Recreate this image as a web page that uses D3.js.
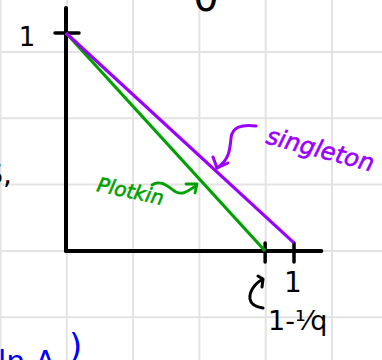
<!DOCTYPE html>
<html>
<head>
<meta charset="utf-8">
<script src="https://cdn.jsdelivr.net/npm/d3@7"></script>
<style>
  html, body { margin: 0; padding: 0; background: #fff; }
  svg { display: block; }
  text { font-family: "DejaVu Sans", sans-serif; }
</style>
</head>
<body>
<svg id="chart" width="382" height="360"></svg>
<script>
// Rate vs relative distance: Singleton and Plotkin bounds
const q = 7.9;
const plotkinEnd = 1 - 1 / q;

const singletonBound = [[0, 1], [1, 0.037]];
const plotkinBound = [[0, 1], [plotkinEnd, 0]];

const xTickValues = [plotkinEnd, 1];
const xTickLabels = ["1-\u00B9\u2044q", "1"];
const yTickValues = [1];
const yTickLabels = ["1"];
const seriesNames = ["singleton", "Plotkin"];

const width = 382, height = 360;
const svg = d3.select("#chart");

svg.append("rect").attr("width", width).attr("height", height).attr("fill", "#fff");

// squared paper
const cell = 66.3;
const grid = svg.append("g").attr("stroke", "#e3e3e3").attr("stroke-width", 2);
d3.range(0.5, width, cell).forEach(x =>
  grid.append("line").attr("x1", x).attr("x2", x).attr("y1", 0).attr("y2", height));
d3.range(52 - cell, height, cell).forEach(y =>
  grid.append("line").attr("x1", 0).attr("x2", width).attr("y1", y).attr("y2", y));

const x = d3.scaleLinear().domain([0, 1]).range([66, 294]);
const y = d3.scaleLinear().domain([0, 1]).range([251, 33]);

// axes
const axes = svg.append("g").attr("stroke", "#000").attr("stroke-width", 4).attr("stroke-linecap", "round");
axes.append("line").attr("x1", x(0)).attr("x2", x(0)).attr("y1", y(1.115)).attr("y2", y(0));
axes.append("line").attr("x1", x(0)).attr("x2", x(1.12)).attr("y1", y(0)).attr("y2", y(0));

// y tick (cross) and label
yTickValues.forEach((v, i) => {
  axes.append("line").attr("x1", x(0) - 11).attr("x2", x(0) + 13)
    .attr("y1", y(v)).attr("y2", y(v)).attr("stroke-width", 3.5);
  svg.append("text").attr("x", 27).attr("y", y(v) + 13)
    .attr("text-anchor", "middle").attr("font-size", 26).attr("fill", "#000")
    .text(yTickLabels[i]);
});

// x ticks
xTickValues.forEach(v => {
  axes.append("line").attr("x1", x(v)).attr("x2", x(v))
    .attr("y1", y(0) - 8).attr("y2", y(0) + 11).attr("stroke-width", 3.5);
});

const line = d3.line().x(d => x(d[0])).y(d => y(d[1]));

svg.append("path").datum(plotkinBound).attr("d", line)
  .attr("fill", "none").attr("stroke", "#00a000").attr("stroke-width", 3.2);
svg.append("path").datum(singletonBound).attr("d", line)
  .attr("fill", "none").attr("stroke", "#9a00ff").attr("stroke-width", 3.2);

// labels with pointer arrows
const pen = (d, c, w) => svg.append("path").attr("d", d).attr("fill", "none")
  .attr("stroke", c).attr("stroke-width", w || 3).attr("stroke-linecap", "round").attr("stroke-linejoin", "round");

svg.append("text").attr("transform", "translate(265,143) rotate(15)")
  .attr("font-size", 24).attr("font-style", "italic").attr("fill", "#9a00ff")
  .attr("stroke", "#9a00ff").attr("stroke-width", 0.6).text(seriesNames[0]);
pen("M256,126 C242,124 232,127 231,138 C230,150 229,160 217,168", "#9a00ff");
pen("M213,157 L217,168 L228,163", "#9a00ff");

svg.append("text").attr("transform", "translate(96,191) rotate(12)")
  .attr("font-size", 20).attr("font-style", "italic").attr("fill", "#00a000")
  .attr("stroke", "#00a000").attr("stroke-width", 0.6).text(seriesNames[1]);
pen("M152,185 C161,179 168,187 176,192 C184,196 190,189 196,186", "#00a000", 2.8);
pen("M186,184 L197,184 L195,193", "#00a000", 2.8);

// x tick labels
svg.append("text").attr("x", x(xTickValues[1]) - 1).attr("y", 292).attr("text-anchor", "middle")
  .attr("font-size", 28).attr("fill", "#000").text(xTickLabels[1]);
pen("M258,276 L263,279 L262,287 M263,279 C254,284 249,292 250,299 C251,305 256,307 263,308", "#000", 3);
svg.append("text").attr("x", 268).attr("y", 330)
  .attr("font-size", 27).attr("fill", "#000").text(xTickLabels[0]);

// fragments of surrounding notes
svg.append("text").attr("x", 206).attr("y", 17).attr("text-anchor", "middle")
  .attr("font-size", 40).attr("fill", "#000").attr("transform", "translate(0,-6)")
  .text("0");
svg.append("text").attr("x", 12).attr("y", 184).attr("text-anchor", "end")
  .attr("font-size", 28).attr("fill", "#000").text("S,");
svg.append("text").attr("x", -2).attr("y", 372)
  .attr("font-size", 30).attr("fill", "#0000ff").text("ln.A");
svg.append("text").attr("x", 69).attr("y", 358)
  .attr("font-size", 34).attr("fill", "#0000ff").text(")");
</script>
</body>
</html>
